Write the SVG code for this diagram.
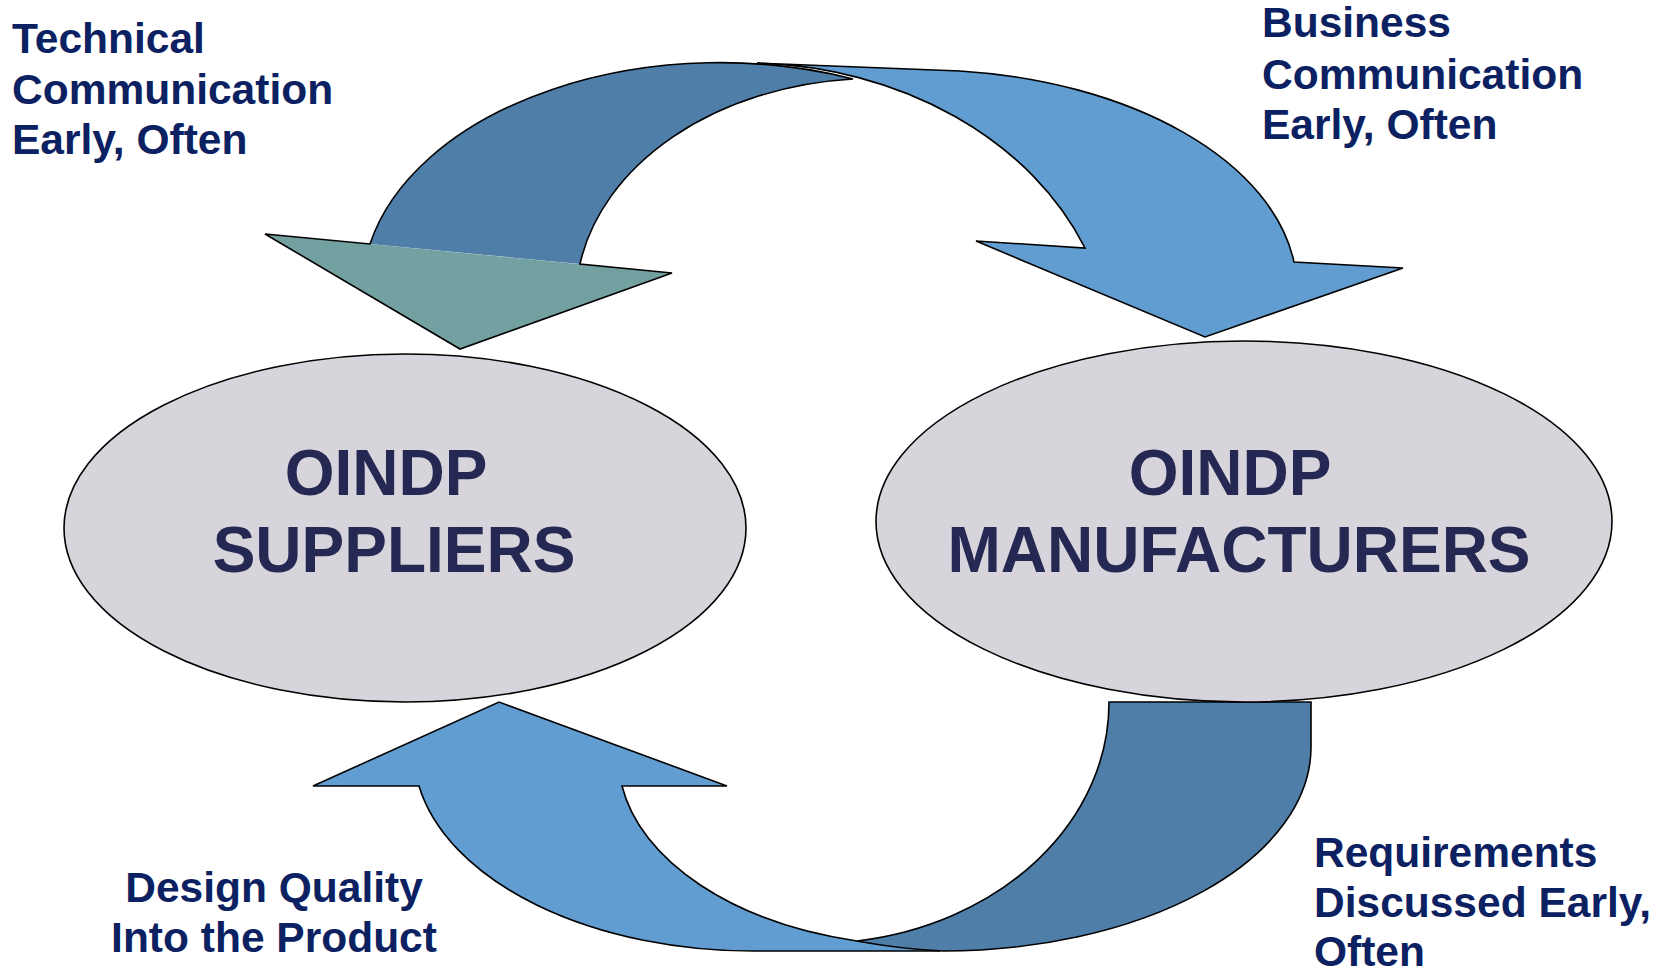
<svg xmlns="http://www.w3.org/2000/svg" width="1665" height="972" viewBox="0 0 1665 972">
<style>
.bg{fill:#ffffff}
.node{fill:#d8d4db;stroke:#000000;stroke-width:1.6}
.ntext{font-family:"Liberation Sans",Arial,sans-serif;font-weight:bold;font-size:64px;fill:#252853;text-anchor:middle}
.lbl{font-family:"Liberation Sans",Arial,sans-serif;font-weight:bold;font-size:42.5px;fill:#0b2162}
.dark{fill:#4f7ea9}
.light{fill:#619dd0}
.teal{fill:#73a0a0}
.edge{fill:none;stroke:#000000;stroke-width:1.6;stroke-linejoin:miter}
.arr{stroke:#000000;stroke-width:1.6;stroke-linejoin:miter}
</style>
<rect class="bg" x="0" y="0" width="1665" height="972"/>
<g id="connectors">
  <g id="arrow-technical">
    <path class="dark" d="M 370,244 A 358 229 0 0 1 853,79 A 300 222 0 0 0 580,264 Z"/>
    <path class="teal" d="M 265,234 L 672,273 L 460,349 Z"/>
    <path class="edge" d="M 370,244 A 358 229 0 0 1 853,79 A 300 222 0 0 0 580,264 L 672,273 L 460,349 L 265,234 Z"/>
  </g>
  <g id="arrow-business">
    <path class="light arr" d="M 757,63 L 960,71 A 377 220 0 0 1 1294,262 L 1403,268 L 1205,337 L 976,241 L 1085,248 A 368 296 0 0 0 757,63 Z"/>
  </g>
  <g id="arrow-design">
    <path class="light arr" d="M 857,941 L 940,951 L 757,951 A 340 200 0 0 1 419,786 L 313,786 L 499,702 L 727,786 L 622,786 A 311 189 0 0 0 857,941 Z"/>
  </g>
  <g id="arrow-requirements">
    <path class="dark arr" d="M 1109,702 L 1311,702 L 1311,748 A 368 204 0 0 1 943,951 Q 900,949 857,941 A 294 241 0 0 0 1109,702 Z"/>
  </g>
</g>
<g id="node-suppliers">
  <ellipse class="node" cx="405" cy="528" rx="341" ry="174"/>
  <text class="ntext" x="386" y="495">OINDP</text>
  <text class="ntext" x="394" y="572">SUPPLIERS</text>
</g>
<g id="node-manufacturers">
  <ellipse class="node" cx="1244" cy="521.5" rx="368" ry="180.5"/>
  <text class="ntext" x="1230" y="495">OINDP</text>
  <text class="ntext" x="1239" y="572">MANUFACTURERS</text>
</g>
<g id="label-technical">
  <text class="lbl" x="12" y="53">Technical</text>
  <text class="lbl" x="12" y="103.5">Communication</text>
  <text class="lbl" x="12" y="154">Early, Often</text>
</g>
<g id="label-business">
  <text class="lbl" x="1262" y="37">Business</text>
  <text class="lbl" x="1262" y="89">Communication</text>
  <text class="lbl" x="1262" y="139">Early, Often</text>
</g>
<g id="label-requirements">
  <text class="lbl" x="1314" y="866.5">Requirements</text>
  <text class="lbl" x="1314" y="917">Discussed Early,</text>
  <text class="lbl" x="1314" y="966">Often</text>
</g>
<g id="label-design">
  <text class="lbl" x="274" y="901.5" text-anchor="middle">Design Quality</text>
  <text class="lbl" x="274" y="951.5" text-anchor="middle">Into the Product</text>
</g>
</svg>
